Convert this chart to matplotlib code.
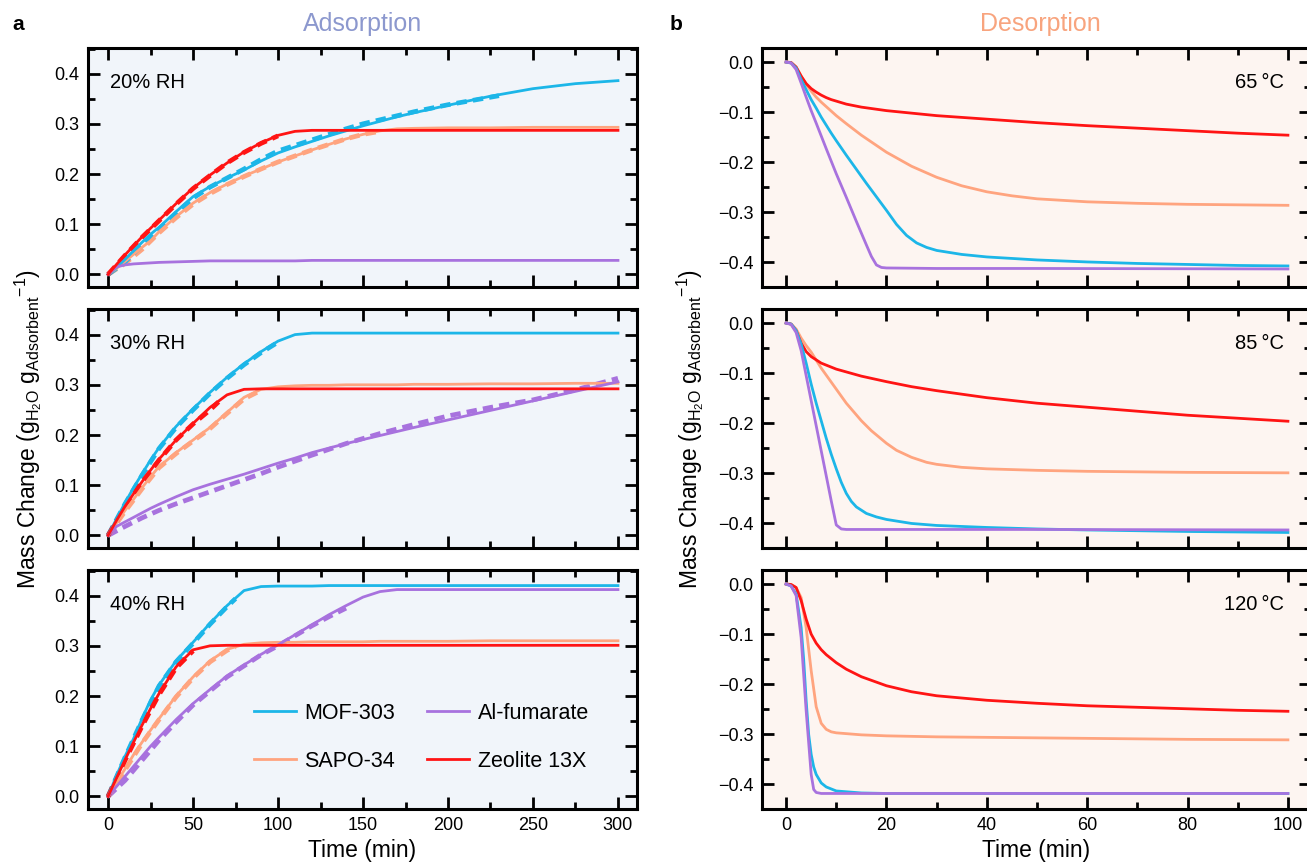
import matplotlib
matplotlib.use("Agg")
import matplotlib.pyplot as plt
from matplotlib.ticker import MultipleLocator
from matplotlib.lines import Line2D

plt.rcParams["font.family"] = ["Liberation Sans", "DejaVu Sans"]
plt.rcParams["mathtext.fontset"] = "custom"
plt.rcParams["mathtext.rm"] = "Liberation Sans"
plt.rcParams["mathtext.it"] = "Liberation Sans:italic"

# colours
C_MOF = "#1CB6E8"
C_SAPO = "#FFA47F"
C_AL = "#A872DE"
C_ZEO = "#FF1414"

# ---------------- adsorption data (solid = model, dashed = experiment) ----------------
ads_t = [0, 5, 10, 15, 20, 25, 30, 40, 50, 60, 70, 80, 90, 100, 110, 120, 130, 140,
         150, 160, 170, 180, 200, 225, 250, 275, 300]

# 20% RH
rh20_mof = [0, 0.014, 0.03, 0.047, 0.064, 0.08, 0.094, 0.125, 0.155, 0.175, 0.192, 0.208,
            0.226, 0.242, 0.254, 0.265, 0.276, 0.286, 0.296, 0.305, 0.314, 0.322, 0.337,
            0.355, 0.37, 0.38, 0.386]
rh20_sapo = [0, 0.012, 0.026, 0.04, 0.054, 0.067, 0.085, 0.115, 0.142, 0.163, 0.18, 0.196,
             0.21, 0.224, 0.236, 0.248, 0.259, 0.27, 0.279, 0.286, 0.29, 0.291, 0.292,
             0.292, 0.293, 0.293, 0.293]
rh20_al = [0, 0.015, 0.019, 0.021, 0.022, 0.023, 0.024, 0.025, 0.026, 0.027, 0.027, 0.027,
           0.027, 0.027, 0.027, 0.028, 0.028, 0.028, 0.028, 0.028, 0.028, 0.028, 0.028,
           0.028, 0.028, 0.028, 0.028]
rh20_zeo = [0, 0.02, 0.039, 0.057, 0.075, 0.092, 0.108, 0.141, 0.172, 0.198, 0.222, 0.244,
            0.262, 0.277, 0.285, 0.287, 0.287, 0.287, 0.287, 0.287, 0.287, 0.287, 0.287,
            0.287, 0.287, 0.287, 0.287]
rh20_mof_exp_t = [0, 10, 20, 30, 40, 50, 60, 70, 80, 90, 100, 110, 120, 130, 140, 150, 160,
                  170, 180, 190, 200, 210, 220, 230]
rh20_mof_exp = [0, 0.025, 0.058, 0.09, 0.122, 0.152, 0.174, 0.192, 0.21, 0.229, 0.246, 0.257,
                0.268, 0.279, 0.29, 0.3, 0.308, 0.316, 0.324, 0.331, 0.338, 0.344, 0.35, 0.356]
rh20_zeo_exp_t = [0, 10, 20, 30, 40, 50, 60, 70, 80, 90, 100]
rh20_zeo_exp = [0, 0.038, 0.074, 0.107, 0.14, 0.171, 0.197, 0.222, 0.243, 0.261, 0.276]
rh20_sapo_exp_t = [0, 10, 20, 30, 40, 50, 60, 70, 80, 90, 100, 110, 120, 130, 140, 150, 160]
rh20_sapo_exp = [0, 0.022, 0.05, 0.083, 0.113, 0.14, 0.161, 0.179, 0.195, 0.21, 0.224, 0.236,
                 0.248, 0.259, 0.27, 0.279, 0.285]

# 30% RH
rh30_mof = [0, 0.033, 0.065, 0.095, 0.123, 0.15, 0.175, 0.217, 0.252, 0.285, 0.315, 0.342,
            0.366, 0.387, 0.4, 0.403, 0.403, 0.403, 0.403, 0.403, 0.403, 0.403, 0.403,
            0.403, 0.403, 0.403, 0.403]
rh30_sapo = [0, 0.025, 0.05, 0.072, 0.095, 0.117, 0.137, 0.165, 0.19, 0.215, 0.245, 0.275,
             0.291, 0.296, 0.298, 0.299, 0.299, 0.3, 0.3, 0.3, 0.3, 0.301, 0.301, 0.302,
             0.302, 0.303, 0.303]
rh30_al = [0, 0.018, 0.027, 0.036, 0.045, 0.054, 0.062, 0.077, 0.091, 0.102, 0.112, 0.122,
           0.133, 0.144, 0.154, 0.165, 0.174, 0.183, 0.191, 0.199, 0.207, 0.215, 0.23,
           0.249, 0.268, 0.287, 0.306]
rh30_zeo = [0, 0.03, 0.058, 0.083, 0.107, 0.13, 0.152, 0.19, 0.223, 0.255, 0.28, 0.291,
            0.292, 0.292, 0.292, 0.292, 0.292, 0.292, 0.292, 0.292, 0.292, 0.292, 0.292,
            0.292, 0.292, 0.292, 0.292]
rh30_mof_exp_t = [0, 10, 20, 30, 40, 50, 60, 70, 80, 90, 100]
rh30_mof_exp = [0, 0.063, 0.12, 0.173, 0.215, 0.25, 0.283, 0.313, 0.34, 0.364, 0.385]
rh30_zeo_exp_t = [0, 10, 20, 30, 40, 50, 60, 65]
rh30_zeo_exp = [0, 0.057, 0.106, 0.15, 0.19, 0.222, 0.25, 0.266]
rh30_sapo_exp_t = [0, 10, 20, 30, 40, 50, 60, 70, 80, 90]
rh30_sapo_exp = [0, 0.048, 0.093, 0.135, 0.163, 0.188, 0.213, 0.243, 0.272, 0.289]
rh30_al_exp_t = [0, 10, 20, 30, 40, 50, 60, 70, 80, 90, 100, 120, 140, 160, 180, 200, 225,
                 250, 275, 300]
rh30_al_exp = [0, 0.018, 0.035, 0.05, 0.063, 0.075, 0.087, 0.099, 0.111, 0.123, 0.136,
               0.16, 0.183, 0.203, 0.221, 0.238, 0.255, 0.27, 0.29, 0.313]

# 40% RH
rh40_mof = [0, 0.042, 0.08, 0.115, 0.155, 0.192, 0.222, 0.27, 0.307, 0.345, 0.38, 0.41,
            0.418, 0.419, 0.419, 0.419, 0.42, 0.42, 0.42, 0.42, 0.42, 0.42, 0.42, 0.42,
            0.42, 0.42, 0.42]
rh40_sapo = [0, 0.028, 0.055, 0.083, 0.108, 0.132, 0.155, 0.2, 0.238, 0.27, 0.293, 0.303,
             0.306, 0.307, 0.307, 0.308, 0.308, 0.308, 0.308, 0.309, 0.309, 0.309, 0.309,
             0.31, 0.31, 0.31, 0.31]
rh40_al = [0, 0.02, 0.04, 0.06, 0.08, 0.1, 0.118, 0.153, 0.185, 0.213, 0.24, 0.262, 0.283,
           0.302, 0.322, 0.342, 0.362, 0.38, 0.397, 0.408, 0.412, 0.412, 0.412, 0.412,
           0.412, 0.412, 0.412]
rh40_zeo = [0, 0.037, 0.073, 0.108, 0.142, 0.175, 0.205, 0.258, 0.292, 0.3, 0.301, 0.301,
            0.301, 0.301, 0.301, 0.301, 0.301, 0.301, 0.301, 0.301, 0.301, 0.301, 0.301,
            0.301, 0.301, 0.301, 0.301]
rh40_mof_exp_t = [0, 10, 20, 30, 40, 50, 60, 70, 75]
rh40_mof_exp = [0, 0.078, 0.152, 0.22, 0.268, 0.305, 0.343, 0.378, 0.394]
rh40_zeo_exp_t = [0, 10, 20, 30, 40, 50]
rh40_zeo_exp = [0, 0.072, 0.14, 0.203, 0.256, 0.29]
rh40_sapo_exp_t = [0, 10, 20, 30, 40, 50, 60, 70, 75]
rh40_sapo_exp = [0, 0.053, 0.106, 0.153, 0.198, 0.236, 0.268, 0.291, 0.298]
rh40_al_exp_t = [0, 10, 20, 30, 40, 50, 60, 70, 80, 90, 100, 110, 120, 130, 140]
rh40_al_exp = [0, 0.032, 0.072, 0.112, 0.148, 0.182, 0.21, 0.238, 0.26, 0.282, 0.3, 0.32,
               0.34, 0.358, 0.375]

# ---------------- desorption data ----------------
# 65 C
d65_zeo_t = [0, 1, 2, 3, 4, 5, 6, 7, 8, 9, 10, 12, 15, 20, 25, 30, 40, 50, 60, 70, 80, 90, 100]
d65_zeo = [0, -0.001, -0.01, -0.028, -0.043, -0.053, -0.06, -0.066, -0.071, -0.075, -0.078,
           -0.084, -0.09, -0.097, -0.102, -0.107, -0.114, -0.121, -0.127, -0.132, -0.137,
           -0.142, -0.146]
d65_sapo_t = [0, 1, 2, 3, 4, 5, 6, 7, 8, 9, 10, 12, 15, 20, 25, 30, 35, 40, 45, 50, 60, 70,
              80, 90, 100]
d65_sapo = [0, -0.001, -0.01, -0.028, -0.045, -0.058, -0.07, -0.08, -0.089, -0.098, -0.107,
            -0.123, -0.146, -0.18, -0.208, -0.23, -0.247, -0.259, -0.267, -0.273, -0.279,
            -0.282, -0.284, -0.285, -0.286]
d65_mof_t = [0, 1, 2, 3, 4, 5, 6, 7, 8, 9, 10, 12, 14, 16, 18, 20, 22, 24, 26, 28, 30, 35,
             40, 50, 60, 70, 80, 90, 100]
d65_mof = [0, -0.002, -0.012, -0.035, -0.055, -0.075, -0.092, -0.11, -0.126, -0.142, -0.157,
           -0.186, -0.214, -0.242, -0.269, -0.296, -0.324, -0.346, -0.361, -0.37, -0.376,
           -0.384, -0.389, -0.395, -0.399, -0.402, -0.404, -0.406, -0.407]
d65_al_t = [0, 1, 2, 3, 4, 5, 6, 8, 10, 12, 14, 16, 17, 18, 19, 20, 30, 50, 100]
d65_al = [0, -0.002, -0.015, -0.042, -0.07, -0.097, -0.122, -0.173, -0.223, -0.27, -0.318,
          -0.365, -0.388, -0.405, -0.41, -0.411, -0.412, -0.412, -0.413]

# 85 C
d85_zeo_t = [0, 1, 2, 3, 4, 5, 7, 10, 15, 20, 25, 30, 40, 50, 60, 70, 80, 90, 100]
d85_zeo = [0, -0.002, -0.015, -0.04, -0.057, -0.067, -0.08, -0.092, -0.106, -0.117, -0.127,
           -0.135, -0.149, -0.16, -0.168, -0.176, -0.184, -0.19, -0.196]
d85_sapo_t = [0, 1, 2, 3, 4, 5, 7, 10, 12, 15, 17, 20, 22, 25, 28, 30, 35, 40, 50, 60, 80, 100]
d85_sapo = [0, -0.002, -0.012, -0.03, -0.045, -0.058, -0.09, -0.132, -0.16, -0.195, -0.215,
            -0.24, -0.254, -0.268, -0.278, -0.282, -0.288, -0.291, -0.294, -0.296, -0.298,
            -0.299]
d85_mof_t = [0, 1, 2, 3, 4, 5, 6, 7, 8, 9, 10, 11, 12, 13, 14, 16, 18, 20, 25, 30, 40, 50,
             60, 80, 100]
d85_mof = [0, -0.002, -0.015, -0.042, -0.08, -0.122, -0.16, -0.195, -0.23, -0.262, -0.291,
           -0.318, -0.34, -0.356, -0.367, -0.38, -0.387, -0.392, -0.4, -0.404, -0.408,
           -0.411, -0.413, -0.416, -0.418]
d85_al_t = [0, 1, 2, 3, 4, 5, 6, 7, 8, 9, 10, 11, 12, 20, 50, 100]
d85_al = [0, -0.003, -0.019, -0.055, -0.105, -0.155, -0.205, -0.255, -0.305, -0.355,
          -0.403, -0.411, -0.412, -0.412, -0.412, -0.413]

# 120 C
d120_zeo_t = [0, 1, 2, 3, 4, 5, 6, 7, 8, 10, 12, 15, 20, 25, 30, 40, 50, 60, 70, 80, 90, 100]
d120_zeo = [0, -0.001, -0.007, -0.033, -0.07, -0.1, -0.118, -0.131, -0.141, -0.157, -0.17,
            -0.185, -0.203, -0.215, -0.223, -0.232, -0.238, -0.243, -0.246, -0.249, -0.252,
            -0.254]
d120_sapo_t = [0, 1, 2, 3, 4, 5, 6, 7, 8, 9, 10, 15, 20, 30, 40, 60, 80, 100]
d120_sapo = [0, -0.001, -0.007, -0.027, -0.087, -0.173, -0.245, -0.278, -0.29, -0.295,
             -0.297, -0.301, -0.303, -0.305, -0.306, -0.308, -0.31, -0.311]
d120_mof_t = [0, 1, 2, 3, 3.5, 4, 4.5, 5, 5.5, 6, 7, 8, 10, 15, 20, 100]
d120_mof = [0, -0.004, -0.02, -0.087, -0.15, -0.233, -0.3, -0.34, -0.365, -0.38, -0.397,
            -0.405, -0.413, -0.417, -0.418, -0.418]
d120_al_t = [0, 1, 2, 3, 4, 5, 5.5, 6, 7, 100]
d120_al = [0, -0.004, -0.023, -0.107, -0.253, -0.38, -0.41, -0.416, -0.418, -0.418]

rh_labels = ["20% RH", "30% RH", "40% RH"]
temp_labels = ["65\u2009°C", "85\u2009°C", "120\u2009°C"]
names = ["MOF-303", "SAPO-34", "Al-fumarate", "Zeolite 13X"]

W, H = 1307, 864
fig = plt.figure(figsize=(W / 100, H / 100), dpi=100)

LW = 2.0
DLW = 3.4
TICK = dict(direction="in", top=True, right=True, width=2.0, labelsize=13, pad=6)


def style_ax(ax, bg):
    ax.set_facecolor(bg)
    for s in ax.spines.values():
        s.set_linewidth(2.2)
    ax.tick_params(which="major", length=8.5, **TICK)
    ax.tick_params(which="minor", length=5, **TICK)


def fig_ax(x0, y0, x1, y1):
    return fig.add_axes([x0 / W, 1 - y1 / H, (x1 - x0) / W, (y1 - y0) / H])


rows = [(48, 287), (309, 548), (570, 809)]

ads_sets = [
    (rh20_mof, rh20_sapo, rh20_al, rh20_zeo,
     [(rh20_sapo_exp_t, rh20_sapo_exp, C_SAPO), (rh20_mof_exp_t, rh20_mof_exp, C_MOF),
      (rh20_zeo_exp_t, rh20_zeo_exp, C_ZEO)]),
    (rh30_mof, rh30_sapo, rh30_al, rh30_zeo,
     [(rh30_al_exp_t, rh30_al_exp, C_AL), (rh30_sapo_exp_t, rh30_sapo_exp, C_SAPO),
      (rh30_mof_exp_t, rh30_mof_exp, C_MOF), (rh30_zeo_exp_t, rh30_zeo_exp, C_ZEO)]),
    (rh40_mof, rh40_sapo, rh40_al, rh40_zeo,
     [(rh40_al_exp_t, rh40_al_exp, C_AL), (rh40_sapo_exp_t, rh40_sapo_exp, C_SAPO),
      (rh40_mof_exp_t, rh40_mof_exp, C_MOF), (rh40_zeo_exp_t, rh40_zeo_exp, C_ZEO)]),
]

for i, (y0, y1) in enumerate(rows):
    ax = fig_ax(88, y0, 637, y1)
    style_ax(ax, "#F1F5FA")
    mof, sapo, al, zeo, exps = ads_sets[i]
    for tt, yy, c in exps:
        ax.plot(tt, yy, color=c, lw=DLW, ls=(0, (2.2, 1.3)), solid_capstyle="butt")
    ax.plot(ads_t, sapo, color=C_SAPO, lw=LW)
    ax.plot(ads_t, mof, color=C_MOF, lw=LW)
    ax.plot(ads_t, al, color=C_AL, lw=LW)
    ax.plot(ads_t, zeo, color=C_ZEO, lw=LW)
    ax.set_xlim(-11.8, 311.2)
    ax.set_ylim(-0.025, 0.451)
    ax.xaxis.set_major_locator(MultipleLocator(50))
    ax.xaxis.set_minor_locator(MultipleLocator(25))
    ax.yaxis.set_major_locator(MultipleLocator(0.1))
    ax.yaxis.set_minor_locator(MultipleLocator(0.05))
    ax.text(0.04, 0.857, rh_labels[i], transform=ax.transAxes, fontsize=14.5,
            va="center", ha="left")
    if i < 2:
        ax.tick_params(labelbottom=False)
    else:
        ax.set_xlabel("Time (min)", fontsize=16.5, labelpad=3)
        handles = [Line2D([], [], color=c, lw=LW) for c in (C_MOF, C_SAPO, C_AL, C_ZEO)]
        ax.legend(handles, names, ncol=2, loc="upper left", bbox_to_anchor=(0.302, 0.445),
                  frameon=False, fontsize=15.5, handlelength=1.95, handletextpad=0.4,
                  columnspacing=1.5, labelspacing=1.25, borderpad=0, borderaxespad=0)

des_sets = [
    [(d65_sapo_t, d65_sapo, C_SAPO), (d65_zeo_t, d65_zeo, C_ZEO),
     (d65_mof_t, d65_mof, C_MOF), (d65_al_t, d65_al, C_AL)],
    [(d85_sapo_t, d85_sapo, C_SAPO), (d85_zeo_t, d85_zeo, C_ZEO),
     (d85_mof_t, d85_mof, C_MOF), (d85_al_t, d85_al, C_AL)],
    [(d120_sapo_t, d120_sapo, C_SAPO), (d120_zeo_t, d120_zeo, C_ZEO),
     (d120_mof_t, d120_mof, C_MOF), (d120_al_t, d120_al, C_AL)],
]

for i, (y0, y1) in enumerate(rows):
    ax = fig_ax(762, y0, 1311, y1)
    style_ax(ax, "#FDF5F1")
    for tt, yy, c in des_sets[i]:
        ax.plot(tt, yy, color=c, lw=LW)
    ax.set_xlim(-4.8, 104.6)
    ax.set_ylim(-0.449, 0.028)
    ax.xaxis.set_major_locator(MultipleLocator(20))
    ax.xaxis.set_minor_locator(MultipleLocator(10))
    ax.yaxis.set_major_locator(MultipleLocator(0.1))
    ax.yaxis.set_minor_locator(MultipleLocator(0.05))
    ax.text(0.95, 0.857, temp_labels[i], transform=ax.transAxes, fontsize=14.5,
            va="center", ha="right")
    if i < 2:
        ax.tick_params(labelbottom=False)
    else:
        ax.set_xlabel("Time (min)", fontsize=16.5, labelpad=3)

ylab = (r"Mass Change (g$_{\mathregular{H_2O}}$ g$_{\mathregular{Adsorbent}}$"
        r"$^{\mathregular{-1}}$)")
fig.text(28 / W, 1 - 429 / H, ylab, rotation=90, fontsize=16.5, ha="center", va="center")
fig.text(690 / W, 1 - 429 / H, ylab, rotation=90, fontsize=16.5, ha="center", va="center")

fig.text(363 / W, 1 - 24 / H, "Adsorption", color="#8C98CE", fontsize=18,
         ha="center", va="center")
fig.text(1040 / W, 1 - 24 / H, "Desorption", color="#F8A47E", fontsize=18,
         ha="center", va="center")
fig.text(18 / W, 1 - 24 / H, "a", fontsize=15, fontweight="bold", ha="center", va="center")
fig.text(676 / W, 1 - 24 / H, "b", fontsize=15, fontweight="bold", ha="center", va="center")

fig.savefig("out.png", dpi=100)
